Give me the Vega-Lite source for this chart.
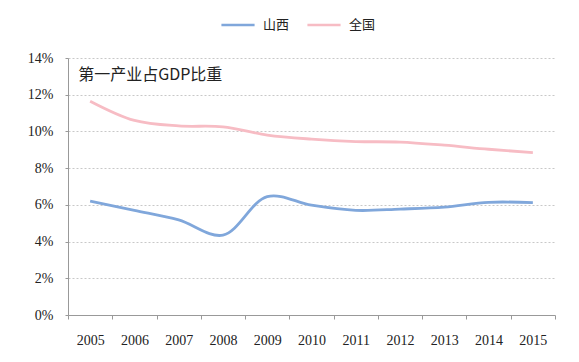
{
  "$schema": "https://vega.github.io/schema/vega-lite/v6.json",
  "width": 487,
  "height": 257,
  "autosize": "none",
  "padding": {"left": 68, "top": 58, "right": 24, "bottom": 47},
  "background": "white",
  "config": {
    "view": {"stroke": null},
    "axis": {"labelFont": "Liberation Serif", "labelFontSize": 14, "labelColor": "#222", "domainColor": "#999", "tickColor": "#999", "title": null}
  },
  "data": {
    "values": [
      {"year": "2005", "region": "山西", "value": 6.20},
      {"year": "2006", "region": "山西", "value": 5.70},
      {"year": "2007", "region": "山西", "value": 5.18},
      {"year": "2008", "region": "山西", "value": 4.35},
      {"year": "2009", "region": "山西", "value": 6.45},
      {"year": "2010", "region": "山西", "value": 5.98},
      {"year": "2011", "region": "山西", "value": 5.70},
      {"year": "2012", "region": "山西", "value": 5.77},
      {"year": "2013", "region": "山西", "value": 5.88},
      {"year": "2014", "region": "山西", "value": 6.14},
      {"year": "2015", "region": "山西", "value": 6.12},
      {"year": "2005", "region": "全国", "value": 11.65},
      {"year": "2006", "region": "全国", "value": 10.60},
      {"year": "2007", "region": "全国", "value": 10.30},
      {"year": "2008", "region": "全国", "value": 10.25},
      {"year": "2009", "region": "全国", "value": 9.80},
      {"year": "2010", "region": "全国", "value": 9.58},
      {"year": "2011", "region": "全国", "value": 9.45},
      {"year": "2012", "region": "全国", "value": 9.42},
      {"year": "2013", "region": "全国", "value": 9.25},
      {"year": "2014", "region": "全国", "value": 9.03},
      {"year": "2015", "region": "全国", "value": 8.85}
    ]
  },
  "encoding": {
    "x": {
      "field": "year", "type": "ordinal",
      "scale": {"paddingInner": 0, "paddingOuter": 0},
      "axis": {"labelAngle": 0, "tickBand": "extent", "tickSize": 4, "labelPadding": 14, "grid": false, "labelOverlap": false, "labelFont": "Liberation Serif"}
    },
    "y": {
      "field": "value", "type": "quantitative",
      "scale": {"domain": [0, 14], "nice": false},
      "axis": {"values": [0, 2, 4, 6, 8, 10, 12, 14], "labelExpr": "datum.value + '%'", "labelFont": "Liberation Serif", "labelFontSize": 14, "tickSize": 3, "labelPadding": 12, "grid": true, "gridDash": [2, 2], "gridColor": "#c8c8c8", "labelOverlap": false, "labelFlush": false}
    }
  },
  "layer": [
    {
      "mark": {"type": "line", "interpolate": "catmull-rom", "strokeWidth": 2.8},
      "encoding": {
        "color": {
          "field": "region", "type": "nominal",
          "scale": {"domain": ["山西", "全国"], "range": ["#80a7db", "#f7bcc4"]},
          "legend": {
            "title": null, "orient": "none", "direction": "horizontal",
            "legendX": 152, "legendY": -51,
            "symbolType": "stroke", "symbolSize": 1100, "symbolStrokeWidth": 2.5,
            "labelFont": "Noto Sans CJK SC", "labelFontSize": 13, "labelColor": "#222",
            "labelOffset": 7, "columnPadding": 12
          }
        }
      }
    },
    {
      "data": {"values": [{"label": "第一产业占GDP比重", "year": "2005", "value": 13.07}]},
      "mark": {"type": "text", "align": "left", "baseline": "middle", "dx": -12, "font": "Noto Sans CJK SC", "fontSize": 16, "color": "#222"},
      "encoding": {
        "text": {"field": "label"}
      }
    }
  ]
}
